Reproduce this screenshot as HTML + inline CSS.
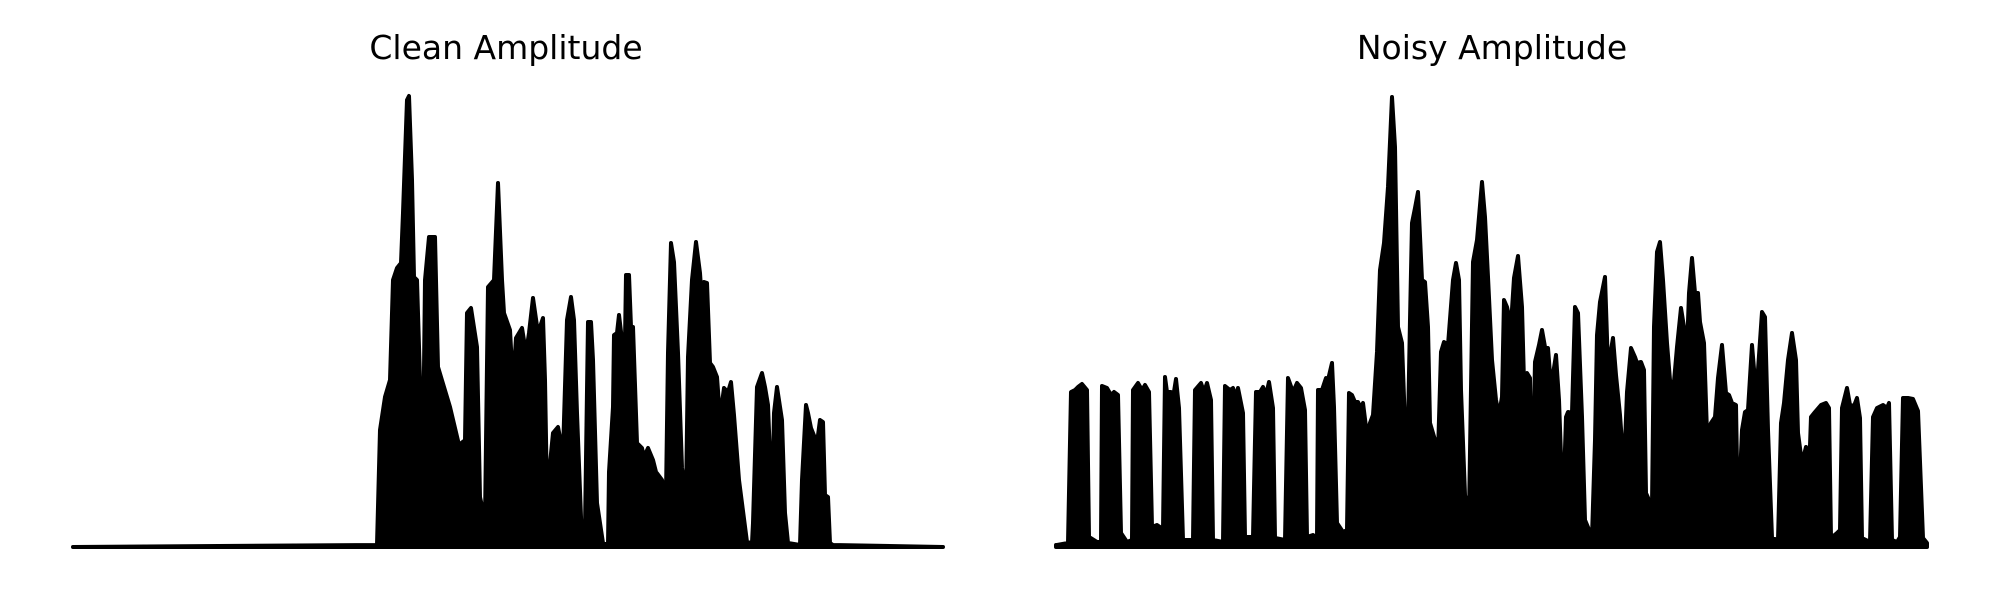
<!DOCTYPE html>
<html><head><meta charset="utf-8"><style>
html,body{margin:0;padding:0;background:#fff;}
svg{display:block;}
text{font-family:"DejaVu Sans","Liberation Sans",sans-serif;}
</style></head><body>
<svg id="chart" width="2000" height="600" viewBox="0 0 2000 600">
<text x="506" y="59" font-size="33" text-anchor="middle" fill="#000">Clean Amplitude</text>
<text x="1492" y="59" font-size="33" text-anchor="middle" fill="#000">Noisy Amplitude</text>
<g id="cleanPanel"></g>
<g id="noisyPanel"></g>
</svg>
<script>
const cleanTimes=[0,304,307,312,317,320,324,328,330,334,336,339,341,344,347,350,352,356,362,365,377,386,392,394,398,404,407,412,415,421,425,429,431,437,440,443,449,453,456,460,465,470,472,474,480,485,490,494,498,501,504,509,512,515,518,520,524,530,535,536,540,541,544,546,549,551,553,556,558,560,564,569,571,575,580,583,589,593,595,598,601,605,609,613,615,619,623,627,629,631,634,637,640,644,647,651,655,658,661,666,674,679,680,684,689,692,695,699,701,704,709,712,715,727,729,733,735,738,744,747,750,752,755,757,760,870];
const cleanAmps=[0,2,117,150,167,267,279,284,334,447,451,367,270,267,167,89,267,310,310,180,140,102,107,234,239,200,50,27,260,267,364,267,234,217,162,209,219,194,214,249,214,229,167,52,114,120,94,227,250,227,134,4,19,225,225,187,44,4,2,75,140,212,214,232,207,140,272,272,220,220,104,99,90,99,87,75,67,52,194,304,285,194,79,50,190,267,305,274,244,265,264,184,180,170,129,159,155,165,132,67,5,4,24,160,174,160,142,37,134,160,127,34,4,2,67,142,134,119,104,127,125,52,50,4,2,0];
const noisyTimes=[0,1,12,15,19,22,26,31,33,41,45,46,51,55,58,62,65,71,76,77,82,86,89,93,96,101,104,107,109,111,115,117,120,123,127,137,139,145,148,151,155,157,167,169,174,177,180,182,187,189,197,200,204,207,210,213,217,219,229,232,237,241,245,249,251,257,261,262,266,270,272,276,278,281,287,291,293,296,299,302,305,307,311,314,317,321,324,328,332,336,339,342,346,351,354,356,359,362,366,369,372,374,379,382,385,388,392,397,400,403,405,409,413,417,421,426,429,432,436,440,443,446,448,451,455,458,462,466,468,471,474,476,479,483,486,489,492,495,500,503,507,510,512,516,519,522,526,529,536,539,541,544,549,552,557,560,564,568,571,575,579,581,585,588,590,596,598,601,604,607,611,614,617,621,625,628,631,633,636,639,642,644,648,651,655,659,662,666,670,673,676,680,682,686,689,692,696,700,702,706,709,712,716,722,725,728,732,736,740,742,746,750,752,755,759,765,770,773,775,781,784,786,791,794,798,801,804,806,814,817,821,827,831,833,836,841,844,847,852,857,862,867,871];
const noisyAmps=[2,2,4,155,157,160,163,157,10,5,5,161,159,152,155,152,14,5,7,157,164,157,162,155,20,22,20,17,170,155,155,149,168,139,7,7,157,164,155,164,147,7,5,161,157,159,150,159,134,10,10,155,155,160,152,165,139,9,7,169,155,164,159,137,10,12,9,157,157,169,167,184,140,24,15,17,154,152,145,145,139,144,112,124,132,195,277,304,360,450,400,220,204,67,227,324,339,355,267,265,220,124,107,94,195,205,202,267,284,267,157,52,32,285,307,365,330,270,187,147,132,150,247,240,222,269,291,240,165,174,169,39,185,202,217,200,199,160,192,147,34,130,135,134,240,234,130,27,10,107,212,245,270,179,209,172,132,77,155,199,190,184,185,177,54,40,220,295,305,267,204,167,154,200,239,220,197,254,289,254,254,225,204,114,124,130,169,202,154,152,144,142,20,117,135,137,202,154,177,235,230,117,9,7,124,144,187,214,187,114,84,100,44,130,135,142,144,139,9,14,17,139,159,142,141,149,129,9,5,130,139,142,139,144,7,5,10,149,149,148,136,9,4];
const NS='http://www.w3.org/2000/svg';
function makeScales(x0,x1){
  return {x:t=>x0+(t/870)*(x1-x0), y:a=>547-(a/451)*451};
}
function drawWave(g,times,amps,sc,name){
  let d='M'+sc.x(times[0]).toFixed(1)+','+sc.y(0).toFixed(1);
  for(let i=0;i<times.length;i++){d+=' L'+sc.x(times[i]).toFixed(1)+','+sc.y(amps[i]).toFixed(1);}
  d+=' L'+sc.x(times[times.length-1]).toFixed(1)+','+sc.y(0).toFixed(1)+' Z';
  const p=document.createElementNS(NS,'path');
  p.setAttribute('d',d);
  p.setAttribute('fill','#000');
  p.setAttribute('stroke','#000');
  p.setAttribute('stroke-width','4');
  p.setAttribute('stroke-linejoin','round');
  p.setAttribute('stroke-linecap','round');
  
  
  g.appendChild(p);
}
drawWave(document.getElementById('cleanPanel'),cleanTimes,cleanAmps,makeScales(73,943),'clean-amplitude-waveform');
drawWave(document.getElementById('noisyPanel'),noisyTimes,noisyAmps,makeScales(1056,1926),'noisy-amplitude-waveform');
</script>
</body></html>
